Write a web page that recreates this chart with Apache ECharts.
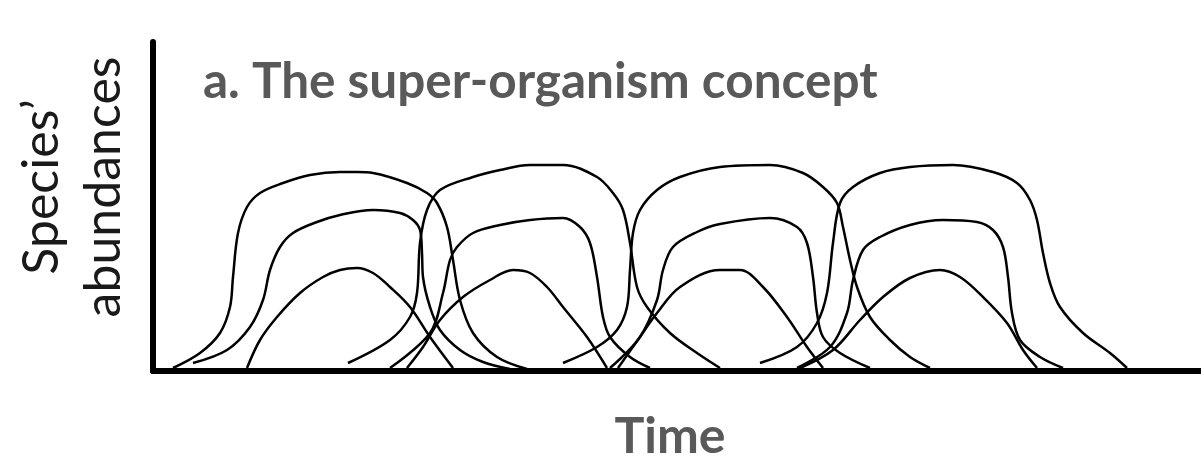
<!DOCTYPE html>
<html>
<head>
<meta charset="utf-8">
<script src="https://cdn.jsdelivr.net/npm/echarts@6/dist/echarts.min.js"></script>
<style>
  html, body { margin: 0; padding: 0; background: #ffffff; }
  #chart { width: 1201px; height: 456px; }
</style>
</head>
<body>
<div id="chart"></div>
<script>
// Texts
const titleText = 'a. The super-organism concept';
const xAxisLabel = 'Time';
const yAxisLabelLines = ['Species\u2019', 'abundances'];

// Each curve: [time, abundance] pairs
// Group 1
const tall1 = [[20,3],[47,18],[67,38],[77,64],[80,94],[85,138],[94,164],[107,178],[130,188],[157,196],[187,199],[204,199],[220,198],[254,188],[274,178],[284,168],[294,144],[300,111],[307,71],[320,38],[344,14],[374,2]];
const mid1 = [[40,8],[74,21],[97,44],[110,71],[117,101],[127,124],[140,138],[164,149],[187,156],[220,161],[247,158],[260,151],[267,141],[269,118],[270,94],[277,64],[287,41],[307,21],[330,9],[357,2]];
const small1 = [[94,3],[107,31],[124,54],[147,78],[170,94],[187,101],[204,103],[220,98],[237,84],[257,64],[277,34],[300,3]];
// Group 2
const tall2 = [[195,8],[237,31],[257,54],[264,78],[267,128],[274,161],[287,181],[320,194],[347,201],[377,206],[410,206],[444,194],[460,178],[470,161],[477,128],[484,84],[494,64],[517,38],[544,18],[567,3]];
const mid2 = [[237,3],[277,38],[290,78],[297,111],[304,124],[320,138],[347,146],[377,151],[410,153],[427,144],[437,128],[444,94],[450,54],[457,34],[477,14],[497,3]];
const small2 = [[254,3],[270,24],[287,51],[310,74],[337,91],[360,101],[377,98],[394,84],[410,64],[434,34],[454,3]];
// Group 3
const tall3 = [[410,8],[444,24],[464,41],[474,64],[477,101],[480,138],[487,161],[504,181],[527,194],[567,204],[617,206],[650,198],[670,184],[684,168],[690,144],[697,111],[704,84],[717,54],[737,31],[757,14],[777,3]];
const mid3 = [[457,3],[487,34],[504,71],[510,101],[520,124],[544,139],[567,147],[617,153],[644,144],[654,128],[660,94],[664,58],[670,34],[687,18],[717,3]];
const small3 = [[465,3],[487,34],[504,58],[527,84],[567,101],[587,101],[610,84],[634,54],[654,24],[670,3]];
// Group 4
const tall4 = [[607,8],[644,24],[664,48],[674,78],[680,128],[687,168],[700,184],[727,198],[757,204],[800,206],[840,199],[864,188],[877,171],[884,151],[890,118],[897,88],[907,64],[930,38],[957,18],[974,3]];
const mid4 = [[644,3],[677,24],[694,58],[700,91],[710,121],[727,134],[757,146],[790,151],[824,149],[840,141],[850,124],[855,94],[859,58],[867,31],[887,14],[910,3]];
const small4 = [[647,3],[680,21],[707,51],[730,74],[757,93],[787,101],[807,94],[830,74],[854,48],[870,21],[884,3]];

const curves = [tall1, mid1, small1, tall2, mid2, small2, tall3, mid3, small3, tall4, mid4, small4];

const chart = echarts.init(document.getElementById('chart'), null, { renderer: 'canvas' });

const series = curves.map((c) => ({
  type: 'line',
  data: c,
  smooth: 0.35,
  symbol: 'none',
  silent: true,
  lineStyle: { color: '#000000', width: 2.5 },
  z: 2
}));

chart.setOption({
  animation: false,
  backgroundColor: '#ffffff',
  grid: { left: 153, right: 0, top: 42, bottom: 85, containLabel: false },
  xAxis: {
    type: 'value', min: 0, max: 1048,
    axisLine: { show: true, lineStyle: { color: '#000', width: 6 } },
    axisTick: { show: false }, axisLabel: { show: false }, splitLine: { show: false }
  },
  yAxis: {
    type: 'value', min: 0, max: 329,
    axisLine: { show: true, lineStyle: { color: '#000', width: 6 } },
    axisTick: { show: false }, axisLabel: { show: false }, splitLine: { show: false }
  },
  graphic: [
    { type: 'text', left: 203, top: 57, z: 10,
      style: { text: titleText, font: 'bold 49.5px Lato', fill: '#595959' } },
    { type: 'text', x: 670, y: 437, z: 10,
      style: { text: xAxisLabel, font: 'bold 50px Lato', fill: '#595959', align: 'center', verticalAlign: 'middle' } },
    { type: 'text', x: 42, y: 187, rotation: Math.PI / 2, z: 10,
      style: { text: yAxisLabelLines[0], font: '50px Lato', fill: '#1a1a1a', align: 'center', verticalAlign: 'middle' } },
    { type: 'text', x: 104, y: 187, rotation: Math.PI / 2, z: 10,
      style: { text: yAxisLabelLines[1], font: '50px Lato', fill: '#1a1a1a', align: 'center', verticalAlign: 'middle' } }
  ],
  series: series
});
</script>
</body>
</html>
